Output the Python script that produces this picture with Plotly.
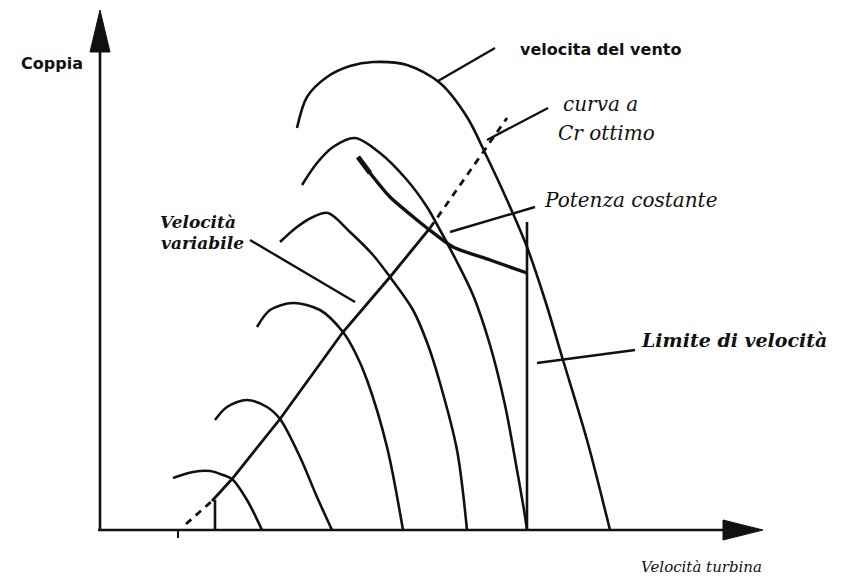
import plotly.graph_objects as go

# ========== Data (speed / torque units) ==========
# wind-speed torque curves, from the highest wind speed to the lowest
vento_1_speed = [197, 207, 227, 250, 273, 307, 340, 367, 387, 407, 427, 445, 463, 487, 510]
vento_1_torque = [402, 433, 453, 464, 468, 465, 447, 413, 373, 330, 283, 230, 170, 90, 0]

vento_2_speed = [202, 217, 233, 255, 280, 307, 327, 340, 356, 373, 390, 405, 417, 424, 427]
vento_2_torque = [345, 367, 383, 392, 377, 350, 323, 300, 270, 235, 185, 125, 60, 20, 0]

vento_3_speed = [180, 197, 213, 228, 250, 273, 290, 313, 328, 340, 357, 367]
vento_3_torque = [288, 303, 313, 317, 298, 275, 253, 220, 185, 147, 80, 0]

vento_4_speed = [157, 170, 193, 220, 243, 255, 267, 287, 303]
vento_4_torque = [203, 220, 227, 220, 198, 178, 150, 83, 0]

vento_5_speed = [115, 127, 147, 167, 180, 200, 217, 232]
vento_5_torque = [110, 123, 130, 123, 111, 73, 33, 0]

vento_6_speed = [73, 93, 110, 123, 132, 147, 162]
vento_6_torque = [52, 58, 59, 55, 51, 30, 0]

# optimum Cp line (solid part, then dashed extensions)
cp_speed = [112, 132, 180, 243, 290, 330]
cp_torque = [29, 51, 111, 198, 253, 302]
cp_up_speed = [330, 407]
cp_up_torque = [302, 412]
cp_low_speed = [86, 112]
cp_low_torque = [6, 29]

# constant power hyperbola
pot_speed = [258, 270, 290, 317, 327, 353, 390, 427]
pot_torque = [373, 357, 333, 310, 302, 283, 270, 257]

# speed limit and cut-in verticals
limite_speed = [427, 427]
limite_torque = [0, 308]
cutin_speed = [115, 115]
cutin_torque = [0, 30]

# ========== Figure ==========
fig = go.Figure()

BLACK = '#111111'
curves = [
    (vento_1_speed, vento_1_torque),
    (vento_2_speed, vento_2_torque),
    (vento_3_speed, vento_3_torque),
    (vento_4_speed, vento_4_torque),
    (vento_5_speed, vento_5_torque),
    (vento_6_speed, vento_6_torque),
]
for xs, ys in curves:
    fig.add_trace(go.Scatter(x=xs, y=ys, mode='lines',
                             line=dict(color=BLACK, width=2.6, shape='spline', smoothing=0.9),
                             hoverinfo='skip'))

fig.add_trace(go.Scatter(x=cp_speed, y=cp_torque, mode='lines',
                         line=dict(color=BLACK, width=2.8), hoverinfo='skip'))
for xs, ys in [(cp_up_speed, cp_up_torque), (cp_low_speed, cp_low_torque)]:
    fig.add_trace(go.Scatter(x=xs, y=ys, mode='lines',
                             line=dict(color=BLACK, width=2.8, dash='7px,6px'), hoverinfo='skip'))

fig.add_trace(go.Scatter(x=pot_speed, y=pot_torque, mode='lines',
                         line=dict(color=BLACK, width=3.4, shape='spline', smoothing=0.6),
                         hoverinfo='skip'))
# thick arrow-like tip near the start of the constant power curve
fig.add_trace(go.Scatter(x=pot_speed[:2], y=pot_torque[:2], mode='lines',
                         line=dict(color=BLACK, width=5), hoverinfo='skip'))

for xs, ys in [(limite_speed, limite_torque), (cutin_speed, cutin_torque)]:
    fig.add_trace(go.Scatter(x=xs, y=ys, mode='lines',
                             line=dict(color=BLACK, width=2.6), hoverinfo='skip'))

# axes with arrowheads
shapes = [
    dict(type='line', x0=-2, y0=0, x1=630, y1=0, line=dict(color=BLACK, width=2.4)),
    dict(type='line', x0=0, y0=0, x1=0, y1=485, line=dict(color=BLACK, width=2.6)),
    dict(type='path', path='M 623,-10 L 663,0 L 623,10 Z', fillcolor=BLACK, line=dict(color=BLACK, width=1)),
    dict(type='path', path='M -10,478 L 0,520 L 10,478 Z', fillcolor=BLACK, line=dict(color=BLACK, width=1)),
    dict(type='line', x0=78, y0=0, x1=78, y1=-8, line=dict(color=BLACK, width=2)),
]

# leader lines
leaders = [
    ((338, 449), (395, 482)),
    ((387, 390), (448, 422)),
    ((350, 298), (435, 323)),
    ((150, 290), (255, 228)),
    ((437, 167), (535, 180)),
]
for (x0, y0), (x1, y1) in leaders:
    shapes.append(dict(type='line', x0=x0, y0=y0, x1=x1, y1=y1, line=dict(color=BLACK, width=2.4)))

SANS = 'DejaVu Sans, sans-serif'
SERIF = 'DejaVu Serif, serif'
labels = [
    ('<b>Coppia</b>', -81, 467, SANS, 16),
    ('<b>velocita del vento</b>', 418, 481, SANS, 16),
    ('<i>curva a</i>', 461, 426, SERIF, 20),
    ('<i>Cr ottimo</i>', 456, 397, SERIF, 20),
    ('<i>Potenza costante</i>', 442, 330, SERIF, 20),
    ('<b><i>Velocità</i></b>', 58, 308, SERIF, 17),
    ('<b><i>variabile</i></b>', 59, 287, SERIF, 17),
    ('<b><i>Limite di velocità</i></b>', 539, 190, SERIF, 19),
    ('<i>Velocità turbina</i>', 539, -37, SERIF, 15),
]
annotations = [
    dict(text=t, x=x, y=y, xref='x', yref='y', xanchor='left', yanchor='middle',
         showarrow=False, font=dict(family=f, size=s, color=BLACK))
    for t, x, y, f, s in labels
]

# the page body adds an 8px margin, so the figure is 8px smaller on each side
fig.update_layout(
    width=838, height=572,
    margin=dict(l=0, r=0, t=0, b=0, pad=0),
    paper_bgcolor='white', plot_bgcolor='white',
    showlegend=False,
    shapes=shapes,
    annotations=annotations,
    xaxis=dict(range=[-92, 746], visible=False, fixedrange=True),
    yaxis=dict(range=[-50, 522], visible=False, fixedrange=True),
)

fig.write_html("out.html")
